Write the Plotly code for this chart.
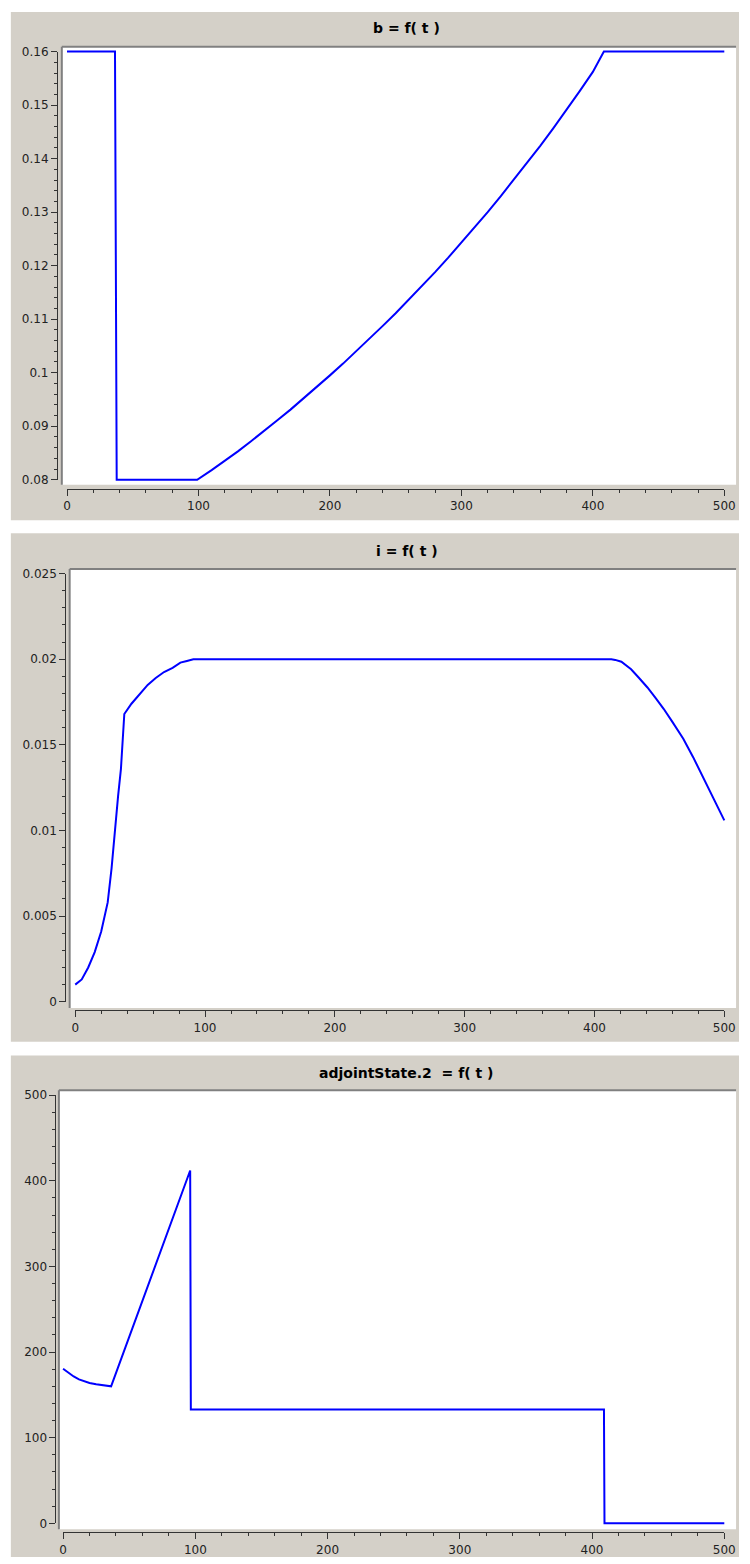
import plotly.graph_objects as go

# ---------------- data ----------------
# panel 1 : b = f(t)
t_b = [0, 36.5, 37.8, 99, 110, 120, 130, 140, 150, 160, 170, 180, 190, 200, 210, 220, 230, 240, 250,
       260, 270, 280, 290, 300, 310, 320, 330, 340, 350, 360, 370, 380, 390, 400, 408.4, 500]
b_v = [0.16, 0.16, 0.08, 0.08, 0.0818, 0.0835, 0.0853, 0.0872, 0.0891, 0.0911, 0.0931, 0.0952, 0.0973,
       0.0995, 0.1017, 0.1040, 0.1063, 0.1087, 0.1111, 0.1136, 0.1162, 0.1188, 0.1215, 0.1243, 0.1271,
       0.1300, 0.1330, 0.1361, 0.1392, 0.1424, 0.1457, 0.1491, 0.1526, 0.1562, 0.16, 0.16]

# panel 2 : i = f(t)
t_i = [0, 5, 10, 15, 20, 25, 28, 30.5, 33.0, 35.2, 36.5, 37.8, 43.3, 50, 55.8, 62, 68.4, 75, 81.0, 86, 91.0,
       413.0, 416, 420.7, 424, 428.2, 434, 440.8, 447, 453.4, 460, 468.4, 476, 483.5, 491, 500]
i_v = [0.0010, 0.0013, 0.0020, 0.0029, 0.0041, 0.0058, 0.0078, 0.0100, 0.0120, 0.0136, 0.0150, 0.0168,
       0.0174, 0.0180, 0.0185, 0.0189, 0.01925, 0.0195, 0.0198, 0.0199, 0.0200,
       0.0200, 0.01996, 0.01985, 0.01966, 0.01941, 0.01893, 0.01835, 0.01774, 0.01709, 0.01634,
       0.01536, 0.01428, 0.01314, 0.01200, 0.01059]

# panel 3 : adjointState.2 = f(t)
t_a = [0, 4, 8, 12, 16, 20, 25, 30, 36.3, 96.1, 96.6, 409.0, 409.4, 500]
a_v = [180.5, 175.5, 171.5, 168, 165.5, 163.8, 162.3, 161.2, 160, 412, 133, 133, 0, 0]

titles = ["b = f( t )", "i = f( t )", "adjointState.2  = f( t )"]
x_range = [0, 500]
y_ranges = [[0.08, 0.16], [0, 0.025], [0, 500]]
y_dticks = [0.01, 0.005, 100]
y_minor = [0.002, 0.001, 20]
x_dtick, x_minor = 100, 20

series = [(t_b, b_v), (t_i, i_v), (t_a, a_v)]

# ---------------- layout geometry (page pixels) ----------------
W, H = 750, 1564
geom = [
    dict(gray=(7, 750, 5, 518), white=(59, 747, 40, 482), x0=64.3, x1=735.0, xline=486.0,
         yline=54.0, ytop=45.0, ybot=477.0, ty=21),
    dict(gray=(7, 750, 531, 1044), white=(67, 747, 567, 1010), x0=72.7, x1=735.0, xline=1012.5,
         yline=62.5, ytop=571.7, ybot=1003.7, ty=549),
    dict(gray=(7, 750, 1058, 1564), white=(56, 747, 1093, 1536), x0=60.3, x1=735.0, xline=1539.0,
         yline=52.5, ytop=1098.0, ybot=1530.0, ty=1076),
]

GRAY = "#d4d0c8"
AXC = "#333333"
FONT = "DejaVu Sans"

fig = go.Figure()
layout = dict(width=W, height=H, margin=dict(l=0, r=0, t=0, b=0, pad=0),
              paper_bgcolor="white", plot_bgcolor="rgba(0,0,0,0)", showlegend=False,
              shapes=[], annotations=[])

def px(x):
    return x / W

def py(y):
    return 1 - y / H

for k, (g, (xs, ys)) in enumerate(zip(geom, series)):
    n_data = k + 1
    n_disp = k + 4
    ymin, ymax = y_ranges[k]
    wl, wr, wt, wb = g["white"]
    sx = (g["x1"] - g["x0"]) / (x_range[1] - x_range[0])
    sy = (g["ybot"] - g["ytop"]) / (ymax - ymin)
    dxr = [x_range[0] - (g["x0"] - wl) / sx, x_range[1] + (wr - g["x1"]) / sx]
    dyr = [ymin - (wb - g["ybot"]) / sy, ymax + (g["ytop"] - wt) / sy]

    xa = "xaxis" if n_data == 1 else f"xaxis{n_data}"
    ya = "yaxis" if n_data == 1 else f"yaxis{n_data}"
    xr = "x" if n_data == 1 else f"x{n_data}"
    yr = "y" if n_data == 1 else f"y{n_data}"
    layout[xa] = dict(domain=[px(wl), px(wr)], range=dxr, anchor=yr, visible=False, fixedrange=True)
    layout[ya] = dict(domain=[py(wb), py(wt)], range=dyr, anchor=xr, visible=False, fixedrange=True)

    fig.add_trace(go.Scatter(x=xs, y=ys, mode="lines", xaxis=xr, yaxis=yr,
                             line=dict(color="#0000ff", width=2), hoverinfo="skip"))

    # display axes
    common = dict(showline=True, linecolor=AXC, linewidth=1, ticks="outside", ticklen=6,
                  tickcolor=AXC, tickwidth=1, showgrid=False, zeroline=False, fixedrange=True,
                  ticklabeloverflow="allow",
                  tickfont=dict(family=FONT, size=12, color="#222222"))
    layout[f"xaxis{n_disp}"] = dict(domain=[px(g["x0"]), px(g["x1"])], range=x_range,
                                    anchor="free", position=py(g["xline"]),
                                    tick0=0, dtick=x_dtick,
                                    minor=dict(dtick=x_minor, ticklen=3, ticks="outside",
                                               tickcolor=AXC, showgrid=False),
                                    **common)
    layout[f"yaxis{n_disp}"] = dict(domain=[py(g["ybot"]), py(g["ytop"])], range=[ymin, ymax],
                                    anchor="free", position=px(g["yline"]),
                                    tick0=0, dtick=y_dticks[k],
                                    minor=dict(dtick=y_minor[k], ticklen=3, ticks="outside",
                                               tickcolor=AXC, showgrid=False),
                                    **common)
    fig.add_trace(go.Scatter(x=[None], y=[None], xaxis=f"x{n_disp}", yaxis=f"y{n_disp}",
                             mode="lines", hoverinfo="skip"))

    gl, gr, gt, gb = g["gray"]
    layout["shapes"].append(dict(type="rect", xref="paper", yref="paper", x0=px(gl), x1=px(gr),
                                 y0=py(gb), y1=py(gt), fillcolor=GRAY, line=dict(width=0),
                                 layer="below"))
    layout["shapes"].append(dict(type="rect", xref="paper", yref="paper", x0=px(wl), x1=px(wr),
                                 y0=py(wb), y1=py(wt), fillcolor="white", line=dict(width=0),
                                 layer="below"))
    # sunken frame (top / left darker)
    layout["shapes"].append(dict(type="line", xref="paper", yref="paper", x0=px(wl), x1=px(wr),
                                 y0=py(wt), y1=py(wt), line=dict(color="#808080", width=2),
                                 layer="below"))
    layout["shapes"].append(dict(type="line", xref="paper", yref="paper", x0=px(wl), x1=px(wl),
                                 y0=py(wb), y1=py(wt), line=dict(color="#808080", width=2),
                                 layer="below"))

    layout["annotations"].append(dict(text=titles[k], xref="paper", yref="paper", x=px(411),
                                      y=py(g["ty"]), xanchor="center", yanchor="middle",
                                      showarrow=False,
                                      font=dict(family=FONT, size=14, color="black", weight="bold")))

fig.update_layout(**layout)
fig.write_html("out.html", config={"displayModeBar": False},
               post_script="document.documentElement.style.margin='0px';"
                           "document.body.style.margin='0px';"
                           "document.documentElement.style.overflow='hidden';"
                           "document.body.style.overflow='hidden';")
